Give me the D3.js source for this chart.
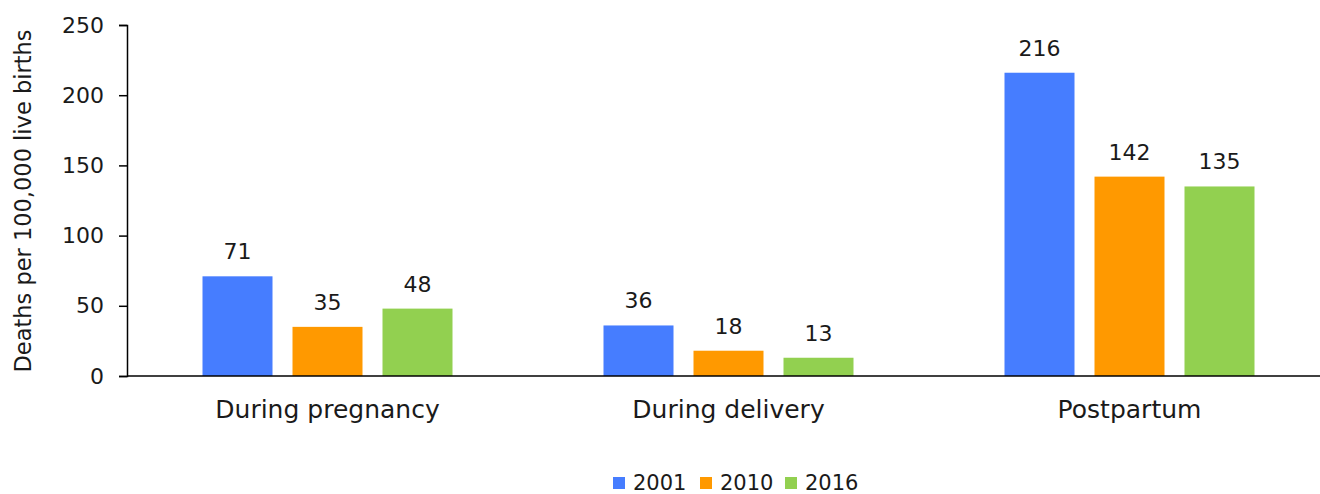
<!DOCTYPE html>
<html>
<head>
<meta charset="utf-8">
<script src="https://cdn.jsdelivr.net/npm/d3@7"></script>
<style>
  body { margin: 0; background: #fff; }
  svg text { font-family: "DejaVu Sans", sans-serif; fill: #1a1a1a; }
</style>
</head>
<body>
<svg id="chart" width="1320" height="494"></svg>
<script>
// data
var categories = ["During pregnancy", "During delivery", "Postpartum"];
var years = ["2001", "2010", "2016"];
var v2001 = [71, 36, 216];
var v2010 = [35, 18, 142];
var v2016 = [48, 13, 135];
var yTicks = [0, 50, 100, 150, 200, 250];
var colors = ["#467DFF", "#FF9900", "#92D050"];

var series = [v2001, v2010, v2016];

var svg = d3.select("#chart");
var plotLeft = 127, plotTop = 25, plotBottom = 376, plotRight = 1330;

var x = d3.scaleBand().domain(categories).range([plotLeft, plotRight]);
var xInner = d3.scaleBand().domain(years).range([0, 250]).paddingInner(0.2222);
var y = d3.scaleLinear().domain([0, 250]).range([plotBottom, plotTop]);

//Y axis
var yAxis = svg.append("g")
    .attr("transform", "translate(" + plotLeft + ",0)")
    .call(d3.axisLeft(y).tickValues(yTicks).tickSize(8).tickPadding(15));
yAxis.select(".domain").attr("stroke", "#000").attr("stroke-width", 1.5);
yAxis.selectAll(".tick line").attr("stroke", "#000").attr("stroke-width", 1.5);
yAxis.selectAll(".tick text")
    .attr("font-family", "DejaVu Sans")
    .attr("font-size", 22).attr("fill", "#1a1a1a");

//Bars for each year
series.forEach(function(vals, i) {
    var g = svg.append("g");
    categories.forEach(function(cat, j) {
        var bx = x(cat) + (x.bandwidth() - 250) / 2 + xInner(years[i]);
        g.append("rect")
            .attr("x", bx)
            .attr("y", y(vals[j]))
            .attr("width", xInner.bandwidth())
            .attr("height", y(0) - y(vals[j]))
            .attr("fill", colors[i]);
        g.append("text")
            .attr("x", bx + xInner.bandwidth() / 2)
            .attr("y", y(vals[j]) - 17)
            .attr("text-anchor", "middle")
            .style("font-size", "22px")
            .text(vals[j]);
    });
});

//X axis line
svg.append("line")
    .attr("x1", plotLeft).attr("x2", 1320)
    .attr("y1", plotBottom).attr("y2", plotBottom)
    .attr("stroke", "#000").attr("stroke-width", 1.5);

//Category labels
svg.selectAll(".cat")
    .data(categories)
    .enter()
    .append("text")
    .attr("class", "cat")
    .attr("x", function(d) { return x(d) + x.bandwidth() / 2; })
    .attr("y", 418)
    .attr("text-anchor", "middle")
    .style("font-size", "25px")
    .text(function(d) { return d; });

//Y axis title
svg.append("text")
    .attr("transform", "translate(31,201) rotate(-90)")
    .attr("text-anchor", "middle")
    .style("font-size", "22.5px")
    .text("Deaths per 100,000 live births");

//Legend
var legendX = [613, 700, 785];
var legend = svg.selectAll(".leg")
    .data(years)
    .enter()
    .append("g")
    .attr("class", "leg")
    .attr("transform", function(d, i) { return "translate(" + legendX[i] + ",0)"; });
legend.append("rect")
    .attr("y", 477).attr("width", 12).attr("height", 12)
    .attr("fill", function(d, i) { return colors[i]; });
legend.append("text")
    .attr("x", 20).attr("y", 490)
    .style("font-size", "21px")
    .text(function(d) { return d; });
</script>
</body>
</html>
